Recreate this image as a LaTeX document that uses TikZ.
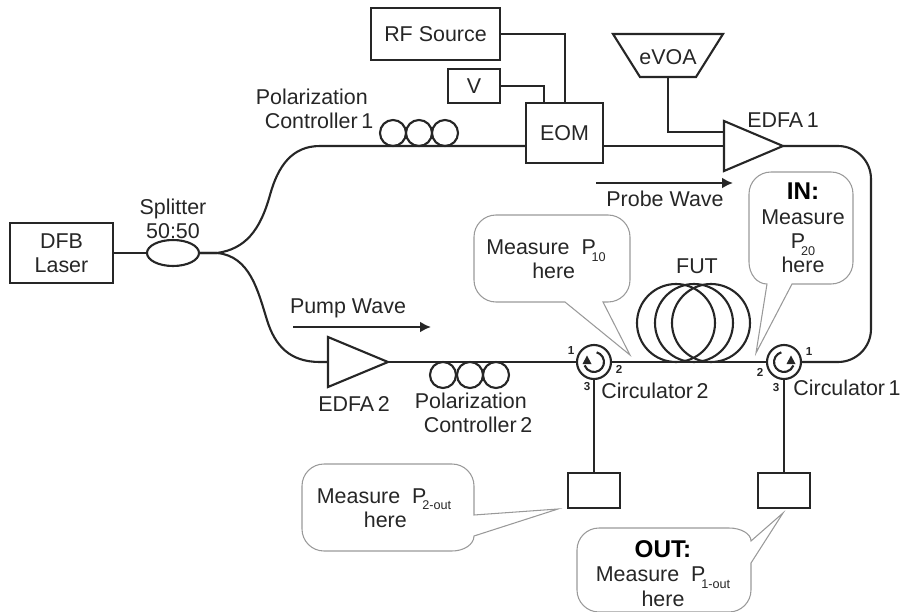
\documentclass[tikz,border=0pt]{standalone}
\usepackage{fontspec}
\setmainfont{Liberation Sans}
\usetikzlibrary{shapes.geometric,arrows.meta}

\definecolor{ink}{gray}{0.15}
\definecolor{bubblegray}{gray}{0.6}
\newcommand{\Psub}[1]{P\kern-1.2pt\raisebox{-0.6ex}{\fontsize{3.6}{4}\selectfont #1}}

\tikzset{
    lbl/.style={text=ink,inner sep=0pt,font=\fontsize{6.1}{6.95}\selectfont},
    port/.style={text=ink,inner sep=0pt,font=\fontsize{3.3}{4}\selectfont\bfseries},
    box/.style={draw=ink,line width=0.6pt,rectangle,inner sep=0pt,text=ink,align=center,
        font=\fontsize{6.1}{6.95}\selectfont},
    fiber/.style={draw=ink,line width=0.6pt},
    coil/.style={draw=ink,line width=0.6pt,circle,inner sep=0pt,minimum size=0.26cm},
    bubble/.style={draw=bubblegray,line width=0.3pt},
    flow/.style={draw=ink,line width=0.6pt,-{Latex[length=0.11cm,width=0.11cm]}},
}

\begin{document}
\begin{tikzpicture}
\useasboundingbox (0,0) rectangle (9,6.11);

    \node[box,minimum width=1.03cm,minimum height=0.60cm] (DFB) at (0.615,3.58) {DFB\\Laser};
    \node[box,ellipse,minimum width=0.52cm,minimum height=0.26cm] (split) at (1.73,3.58) {};
    \node[box,minimum width=1.29cm,minimum height=0.52cm] (RF) at (4.355,5.77) {RF Source};
    \node[box,minimum width=0.52cm,minimum height=0.34cm] (V) at (4.74,5.25) {V};
    \node[box,minimum width=0.77cm,minimum height=0.60cm] (EOM) at (5.645,4.78) {EOM};
    \node[box,minimum width=0.52cm,minimum height=0.35cm] (detB) at (5.94,1.205) {};
    \node[box,minimum width=0.52cm,minimum height=0.35cm] (detA) at (7.84,1.205) {};

    \coordinate (EOMin) at (5.26,4.65);
    \coordinate (EOMout) at (6.03,4.65);
    \coordinate (EOMrf) at (5.65,5.08);
    \coordinate (EOMdc) at (5.44,5.08);

    % eVOA
    \node[lbl] (eVOA) at (6.68,5.54) {eVOA};
    \coordinate (eVOAout) at (6.68,5.34);
    \draw[fiber] (6.13,5.77) -- (7.23,5.77) -- (6.96,5.34) -- (6.40,5.34) -- cycle;

    % amplifiers
    \coordinate (E1top) at (7.24,4.90);
    \coordinate (E1bot) at (7.24,4.40);
    \coordinate (E1tip) at (7.83,4.65);
    \coordinate (E1in) at (7.24,4.65);
    \coordinate (E1ctl) at (7.24,4.79);
    \draw[fiber] (E1top) -- (E1tip) -- (E1bot) -- cycle;

    \coordinate (E2top) at (3.28,2.74);
    \coordinate (E2bot) at (3.28,2.24);
    \coordinate (E2tip) at (3.88,2.49);
    \coordinate (E2in) at (3.28,2.49);
    \draw[fiber] (E2top) -- (E2tip) -- (E2bot) -- cycle;

    % polarization controllers
    \node[coil] (PCa) at (3.93,4.78) {};
    \node[coil] (PCb) at (4.19,4.78) {};
    \node[coil] (PCc) at (4.45,4.78) {};
    \node[coil] (PCd) at (4.43,2.36) {};
    \node[coil] (PCe) at (4.70,2.36) {};
    \node[coil] (PCf) at (4.96,2.36) {};

    % FUT
    \node[coil,minimum size=0.78cm] (FUTa) at (6.76,2.88) {};
    \node[coil,minimum size=0.78cm] (FUTb) at (6.94,2.88) {};
    \node[coil,minimum size=0.78cm] (FUTc) at (7.11,2.88) {};

    % circulators
    \node[coil,minimum size=0.34cm] (circB) at (5.94,2.49) {};
    \node[coil,minimum size=0.34cm] (circA) at (7.84,2.49) {};
    \foreach \c/\s in {circB/1,circA/-1} {
        \begin{scope}[shift={(\c.center)},xscale=\s]
            \draw[fiber] (75:0.1) arc[start angle=75,end angle=-160,radius=0.1];
            \fill[ink] (-0.115,-0.02) -- (-0.025,-0.02) -- (-0.07,0.065) -- cycle;
        \end{scope}
    }

    % fibers
    \draw[fiber] (DFB.east) -- (split.west);
    \draw[fiber] (split.east) -- (2.17,3.58) .. controls (2.45,3.62) and (2.60,3.80) .. (2.70,4.16)
        .. controls (2.78,4.45) and (2.92,4.65) .. (3.20,4.65) -- (EOMin);
    \draw[fiber] (split.east) -- (2.17,3.58) .. controls (2.50,3.55) and (2.58,3.20) .. (2.67,2.91)
        .. controls (2.75,2.65) and (2.90,2.49) .. (3.20,2.49) -- (E2in);
    \draw[fiber] (EOMout) -- (E1in);
    \draw[fiber] (E2tip) -- (circB.west);
    \draw[fiber] (circB.east) -- (circA.west);
    \draw[fiber,rounded corners=0.33cm] (E1tip) -- (8.71,4.65) -- (8.71,2.49) -- (circA.east);
    \draw[fiber] (circB.south) -- (detB.north);
    \draw[fiber] (circA.south) -- (detA.north);

    \draw[fiber] (RF.east) -| (EOMrf);
    \draw[fiber] (V.east) -| (EOMdc);
    \draw[fiber] (eVOAout) |- (E1ctl);

    % wave arrows
    \coordinate (pumpL) at (2.93,2.84);
    \coordinate (pumpR) at (4.31,2.84);
    \coordinate (probeL) at (5.96,4.28);
    \coordinate (probeR) at (7.33,4.28);
    \draw[flow] (pumpL) -- (pumpR);
    \draw[flow] (probeL) -- (probeR);

    % labels
    \node[lbl] (splitlbl) at (1.73,3.92) [align=center] {Splitter\\50:50};
    \node[lbl,align=left] (PClblA) at (3.145,5.02) {Polarization\\\hspace*{0.09cm}Controller\,1};
    \node[lbl,align=left] (PClblB) at (4.735,1.98) {Polarization\\\hspace*{0.09cm}Controller\,2};
    \node[lbl] (E1lbl) at (7.83,4.91) {EDFA\,1};
    \node[lbl] (E2lbl) at (3.54,2.07) {EDFA\,2};
    \node[lbl] (pumplbl) at (3.48,3.03) {Pump Wave};
    \node[lbl] (probelbl) at (6.65,4.12) {Probe Wave};
    \node[lbl] (FUTlbl) at (6.97,3.45) {FUT};
    \node[lbl] (cBlbl) at (6.55,2.20) {Circulator\,2};
    \node[lbl] (cAlbl) at (8.47,2.23) {Circulator\,1};

    \node[port] (pB1) at (5.71,2.60) {1};
    \node[port] (pB2) at (6.19,2.42) {2};
    \node[port] (pB3) at (5.87,2.24) {3};
    \node[port] (pA1) at (8.09,2.59) {1};
    \node[port] (pA2) at (7.60,2.39) {2};
    \node[port] (pA3) at (7.76,2.23) {3};

    % bubbles
    \draw[bubble] (4.96,3.96) -- (6.08,3.96) arc[start angle=90,end angle=0,radius=0.22]
        -- (6.30,3.31) arc[start angle=0,end angle=-90,radius=0.22] -- (6.03,3.09) -- (6.30,2.56) -- (5.65,3.09)
        -- (4.96,3.09) arc[start angle=270,end angle=180,radius=0.22]
        -- (4.74,3.74) arc[start angle=180,end angle=90,radius=0.22] -- cycle;
    \draw[bubble] (7.71,4.39) -- (8.31,4.39) arc[start angle=90,end angle=0,radius=0.22]
        -- (8.53,3.49) arc[start angle=0,end angle=-90,radius=0.22] -- (7.92,3.27) -- (7.56,2.58) -- (7.67,3.27)
        arc[start angle=270,end angle=180,x radius=0.18,y radius=0.22]
        -- (7.49,4.17) arc[start angle=180,end angle=90,radius=0.22] -- cycle;
    \draw[bubble] (3.24,1.47) -- (4.52,1.47) arc[start angle=90,end angle=0,radius=0.22]
        -- (4.74,0.96) -- (5.58,1.02) -- (4.74,0.75) arc[start angle=0,end angle=-90,x radius=0.22,y radius=0.15]
        -- (3.24,0.60) arc[start angle=270,end angle=180,radius=0.22]
        -- (3.02,1.25) arc[start angle=180,end angle=90,radius=0.22] -- cycle;
    \draw[bubble] (5.99,0.83) -- (7.29,0.83) arc[start angle=90,end angle=0,x radius=0.22,y radius=0.13]
        -- (7.83,0.98) -- (7.51,0.48) -- (7.51,0.21) arc[start angle=0,end angle=-90,radius=0.22]
        -- (5.99,-0.01) arc[start angle=270,end angle=180,radius=0.22]
        -- (5.77,0.61) arc[start angle=180,end angle=90,radius=0.22] -- cycle;

    \node[lbl,align=left] (mBin) at (5.46,3.515) {Measure\ \ \Psub{10}\\\hspace*{0.46cm}here};
    \node[lbl,align=center] (mAin) at (8.03,3.83) {{\fontsize{6.9}{7}\selectfont\bfseries\color{black}IN:}\\Measure\\\Psub{20}\\here};
    \node[lbl,align=left] (mBout) at (3.84,1.03) {Measure\ \ \Psub{2-out}\\\hspace*{0.47cm}here};
    \node[lbl,align=center] (mAout) at (6.63,0.375) {{\fontsize{6.9}{7}\selectfont\bfseries\color{black}OUT:}\\Measure\ \ \Psub{1-out}\\here};
\end{tikzpicture}
\end{document}
